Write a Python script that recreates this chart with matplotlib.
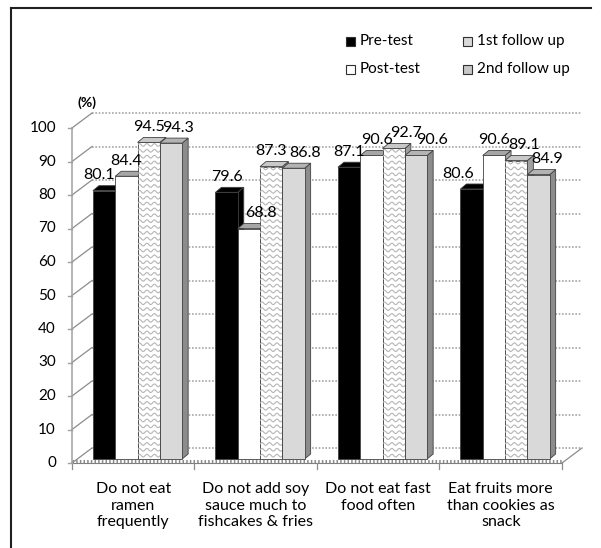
import numpy as np
import matplotlib.pyplot as plt
from matplotlib.patches import Polygon, Rectangle
from matplotlib.lines import Line2D

plt.rcParams['font.family'] = ['Lato', 'DejaVu Sans']

categories = ["Do not eat\nramen\nfrequently",
              "Do not add soy\nsauce much to\nfishcakes & fries",
              "Do not eat fast\nfood often",
              "Eat fruits more\nthan cookies as\nsnack"]
series = ["Pre-test", "Post-test", "1st follow up", "2nd follow up"]
pre_test = [80.1, 79.6, 87.1, 80.6]
post_test = [84.4, 68.8, 90.6, 90.6]
follow_up_1 = [94.5, 87.3, 92.7, 89.1]
follow_up_2 = [94.3, 86.8, 90.6, 84.9]
y_ticks = list(range(0, 101, 10))

# sideways nudge (px) of each value label, per category / series
label_dx = [[-5, 0, 0, 7],
            [0, 12, 0, 12],
            [0, 6, 12, 16],
            [-13, 0, 8, 9]]

W, H = 601, 548
fig = plt.figure(figsize=(W / 100, H / 100), dpi=100)
ax = fig.add_axes([0, 0, 1, 1])

# one category = 122.5 px, 1 % = 3.35 px
PX_X, PX_Y = 122.5, 3.35
ax.set_xlim(-0.5 - 72 / PX_X, -0.5 + (W - 72) / PX_X)
ax.set_ylim(-85 / PX_Y, (H - 85) / PX_Y)
ax.axis('off')

# fake 3d depth of the wall / floor and of each bar
DX, DY = 20 / PX_X, 15 / PX_Y
BW = 22.3 / PX_X
BDX, BDY = 6 / PX_X, 5 / PX_Y
BASE = 4 / PX_Y
SHIFT = 4.3 / PX_X
n = len(categories)
x_left, x_right = -0.5, n - 0.5

grid_c = '#a6a6a6'
# back wall grid
for v in y_ticks[1:]:
    ax.plot([x_left + DX, x_right + DX], [v + DY, v + DY], color=grid_c,
            lw=1.2, ls=(0, (1, 1)), zorder=1)
    ax.plot([x_left, x_left + DX], [v, v + DY], color='#8c8c8c', lw=0.9, zorder=1)
ax.plot([x_left, x_left + DX], [0, DY], color='#8c8c8c', lw=0.9, zorder=1)

# floor
ax.plot([x_left + DX, x_right + DX], [DY, DY], color=grid_c, lw=1.2,
        ls=(0, (1, 1)), zorder=1)
ax.plot([x_right, x_right + DX], [0, DY], color='#8c8c8c', lw=0.9, zorder=1)
ax.plot([x_left, x_right], [0, 0], color='#7f7f7f', lw=0.8, zorder=1)
ax.plot([x_left, x_right], [0.45, 0.45], color='#8c8c8c', lw=2.2,
        ls=(0, (0.5, 0.7)), zorder=1)
for c in range(n + 1):
    ax.plot([x_left + c, x_left + c], [0, -1.8], color='#8c8c8c', lw=0.9, zorder=1)

# value axis
ax.plot([x_left, x_left], [0, 100], color='#a0a0a0', lw=1.1, zorder=1)
for v in y_ticks:
    ax.plot([x_left - 4 / PX_X, x_left], [v, v], color='#a0a0a0', lw=1.0, zorder=1)
    ax.text(x_left - 16 / PX_X, v, str(v), ha='right', va='center', fontsize=11)
ax.text(x_left + 15 / PX_X, 107.5, "(%)", ha='center', va='center',
        fontsize=10, fontweight='bold')

styles = [
    dict(face='black', top='black', side='black'),
    dict(face='white', top='#a6a6a6', side='#a6a6a6'),
    dict(face='white', top='#c8c8c8', side='#a0a0a0', wave=True),
    dict(face='#d9d9d9', top='#b3b3b3', side='#8c8c8c'),
]
data = [pre_test, post_test, follow_up_1, follow_up_2]
edge = '#404040'

for i in range(n):
    g0 = i + SHIFT - 2 * BW
    for k, vals in enumerate(data):
        v = vals[i]
        st = styles[k]
        x = g0 + k * BW
        y1 = BASE + v
        z = 2 + k
        ax.add_patch(Polygon([(x + BW, BASE), (x + BW + BDX, BASE + BDY),
                              (x + BW + BDX, y1 + BDY), (x + BW, y1)],
                             closed=True, fc=st['side'], ec=edge, lw=0.6, zorder=z))
        ax.add_patch(Polygon([(x, y1), (x + BW, y1), (x + BW + BDX, y1 + BDY),
                              (x + BDX, y1 + BDY)],
                             closed=True, fc=st['top'], ec=edge, lw=0.6, zorder=z))
        bars = ax.bar(x, v, width=BW, bottom=BASE, align='edge', color=st['face'],
                      edgecolor=edge, linewidth=0.6, zorder=z)
        if st.get('wave'):
            rect = bars[0]
            xs = np.linspace(x, x + BW, 60)
            for yy in np.arange(BASE + 1.0, y1 + 1.0, 1.75):
                wl, = ax.plot(xs, yy + 0.4 * np.sin(2 * np.pi * (xs - x) / (7.5 / PX_X)),
                              color='#b5b5b5', lw=0.8, zorder=z + 0.5)
                wl.set_clip_path(rect)
        ax.text(x + BW / 2 + label_dx[i][k] / PX_X, y1 + 2.5, f"{v}",
                ha='center', va='bottom', fontsize=11.5, zorder=10)

for i, lab in enumerate(categories):
    ax.text(i, -5.6, lab, ha='center', va='top', fontsize=11.5, linespacing=1.25)

# legend, drawn by hand in two columns
def fx(px):
    return px / W

def fy(py):
    return 1 - py / H

leg_pos = [(346, 41), (346, 69), (463, 41), (463, 69)]
leg_fc = ['black', 'white', '#d9d9d9', '#c8c8c8']
for (lx, ly), fc, name in zip(leg_pos, leg_fc, series):
    fig.patches.append(Rectangle((fx(lx), fy(ly + 4.5)), 9 / W, 9 / H, fc=fc,
                                 ec='#303030', lw=0.8, transform=fig.transFigure))
    fig.text(fx(lx + 14), fy(ly), name, ha='left', va='center', fontsize=11)

# outer frame
fig.add_artist(Line2D([fx(11), fx(591)], [fy(8), fy(8)], color='#202020', lw=1.5))
fig.add_artist(Line2D([fx(11), fx(11)], [fy(8), 0], color='#202020', lw=1.5))

fig.savefig('out.png', dpi=100)
